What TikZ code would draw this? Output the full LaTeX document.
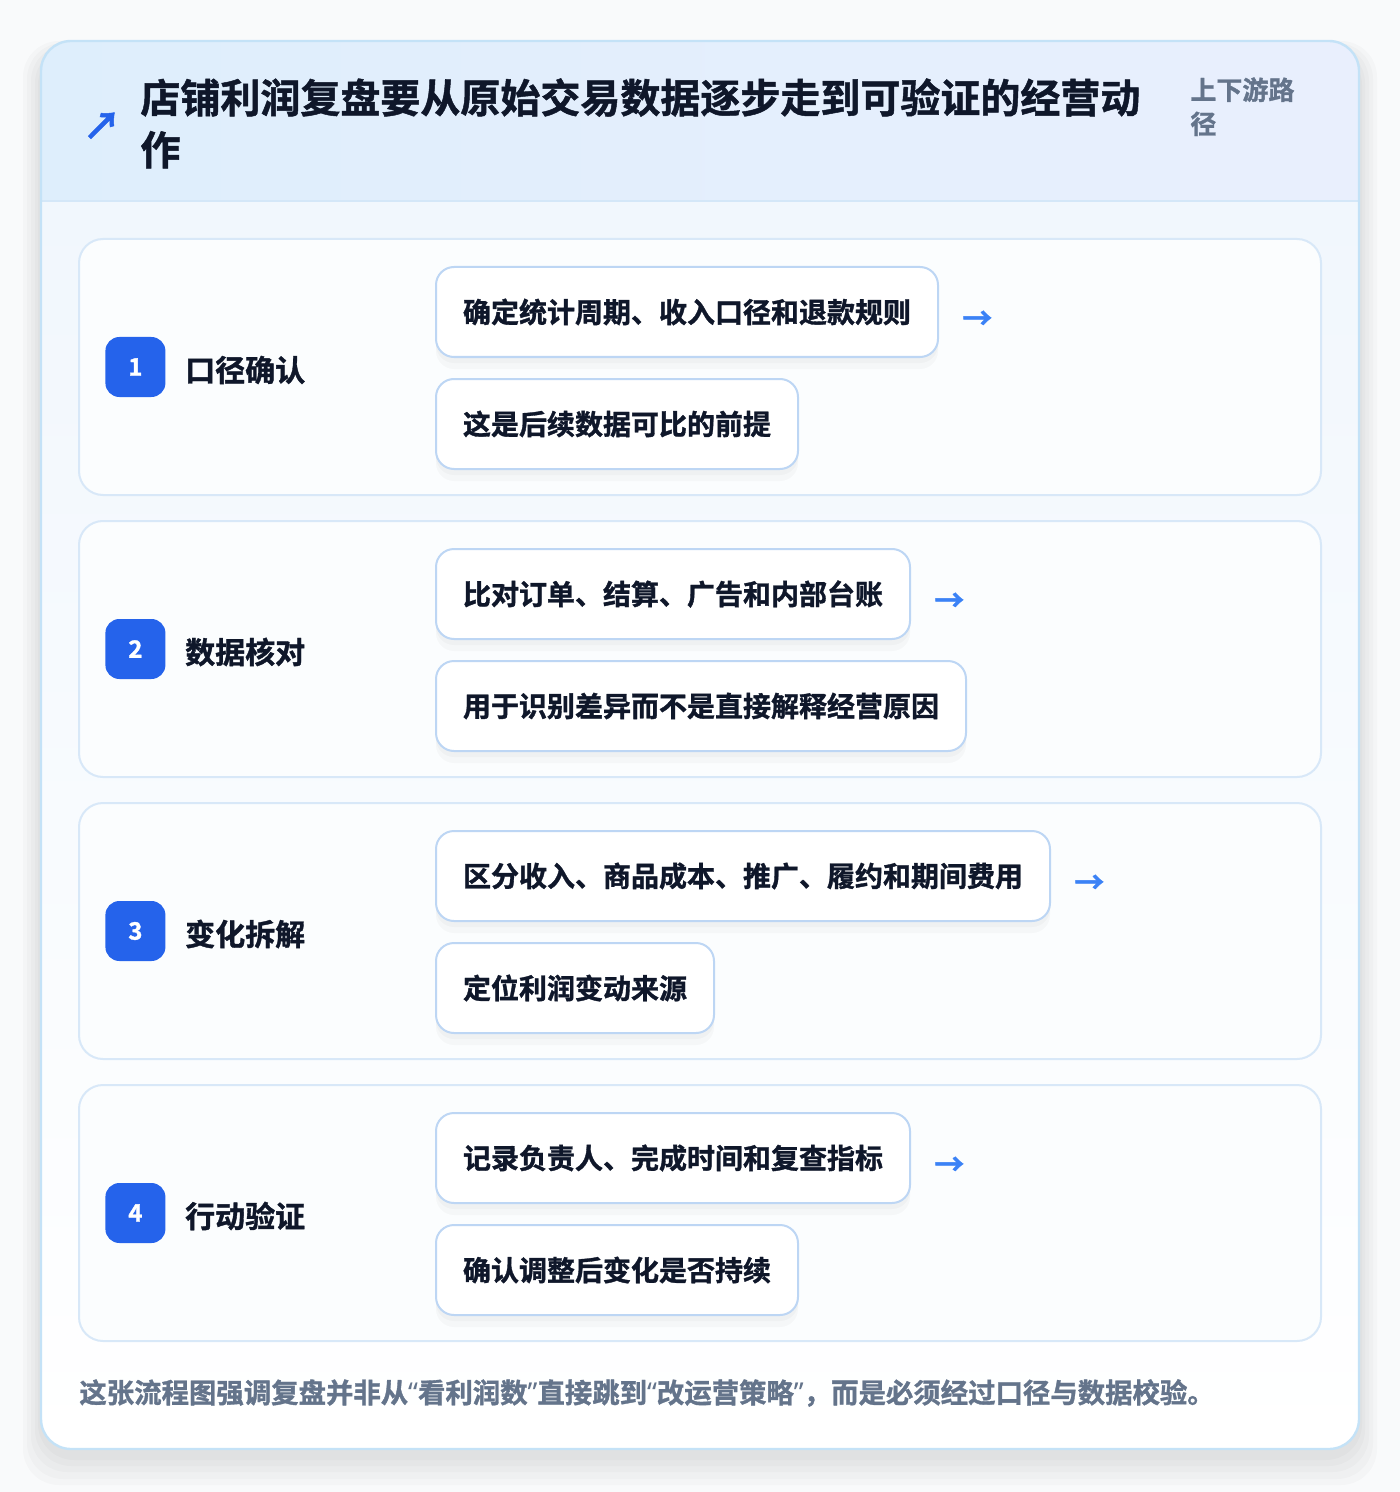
\documentclass[tikz,border=0pt]{standalone}
\usepackage{fontspec}
\setmainfont{Noto Sans CJK SC}[BoldFont={Noto Sans CJK SC Bold}, BoldFeatures={FakeBold=1.2}]
\newfontfamily\quotefont{Noto Sans}[BoldFeatures={FakeBold=1.2}]
\usetikzlibrary{positioning}

\definecolor{pagebg}{HTML}{F9FAFB}
\definecolor{outerline}{HTML}{C4E2F7}
\definecolor{headl}{HTML}{DEEEFC}
\definecolor{headr}{HTML}{E9EFFD}
\definecolor{headline}{HTML}{D4E7F8}
\definecolor{bodytop}{HTML}{F1F7FD}
\definecolor{cardline}{HTML}{D8E8F8}
\definecolor{cardbg}{HTML}{FBFDFE}
\definecolor{pillline}{HTML}{BDD6F4}
\definecolor{ink}{HTML}{0F172A}
\definecolor{slate}{HTML}{64748B}
\definecolor{badgeblue}{HTML}{2563EB}
\definecolor{arrowblue}{HTML}{3B82F6}

\newcommand{\openq}{{\quotefont“}}
\newcommand{\closeq}{{\quotefont”}}

\tikzset{
  stepcard/.style={draw=cardline, fill=cardbg, line width=1pt, rounded corners=12pt,
    minimum width=621pt, minimum height=128pt},
  badge/.style={fill=badgeblue, rounded corners=7pt, minimum size=30pt, inner sep=0pt,
    text=white, font=\bfseries\fontsize{12}{14}\selectfont},
  steplabel/.style={inner sep=0pt, yshift=-1.5pt, text=ink, font=\bfseries\fontsize{15}{18}\selectfont},
  pill/.style={draw=pillline, fill=white, line width=1pt, rounded corners=9pt,
    minimum height=45pt, inner xsep=13.5pt, inner ysep=0pt, text=ink,
    font=\bfseries\fontsize{14}{17}\selectfont,
    preaction={fill=black, fill opacity=0.025, transform canvas={yshift=-6pt}},
    preaction={fill=black, fill opacity=0.025, transform canvas={yshift=-3pt}}},
  steparrow/.style={inner sep=0pt, yshift=-4pt, text=arrowblue, font=\bfseries\fontsize{15}{18}\selectfont},
  cardshade/.style={fill=black, fill opacity=0.018, rounded corners=18pt},
}

\begin{document}
\begin{tikzpicture}[x=0.5pt, y=-0.5pt]

\fill[pagebg] (0,0) rectangle (1400,1492);
\useasboundingbox (0,0) rectangle (1400,1492);

% outer card and its shadow
\fill[cardshade] (23,41) rectangle (1377,1485);
\fill[cardshade] (27,43) rectangle (1373,1479);
\fill[cardshade] (31,45) rectangle (1369,1472);
\fill[cardshade] (35,47) rectangle (1365,1466);
\fill[cardshade] (38,49) rectangle (1362,1460);
\fill[white, rounded corners=15pt] (41,41) rectangle (1359,1449);
\begin{scope}
\clip[rounded corners=15pt] (41,41) rectangle (1359,1449);
\shade[left color=headl, right color=headr] (41,41) rectangle (1359,201);
\shade[top color=bodytop, bottom color=white] (41,201) rectangle (1359,1449);
\end{scope}
\draw[headline, line width=1pt] (41,201) -- (1359,201);
\draw[outerline, line width=1.2pt, rounded corners=15pt] (41,41) rectangle (1359,1449);

% header
\node[text=badgeblue, font=\bfseries\fontsize{19}{20}\selectfont, inner sep=0pt] (icon) at (102,126) {↗};
\node[anchor=north west, align=left, inner sep=0pt, text=ink,
  font=\bfseries\fontsize{20}{26}\selectfont] (title) at (140,78)
  {店铺利润复盘要从原始交易数据逐步走到可验证的经营动\\作};
\node[anchor=north west, align=left, inner sep=0pt, text=slate,
  font=\bfseries\fontsize{13}{17}\selectfont] (tag) at (1190,77) {上下游路\\径};

% step 1
\node[stepcard] (card1) at (700,367) {};
\node[badge, right=13.5pt of card1.west] (badge1) {1};
\node[steplabel, right=9.5pt of badge1] (label1) {口径确认};
\node[pill, anchor=west] (pill1a) at (435,312) {确定统计周期、收入口径和退款规则};
\node[pill, below right=10pt and 0pt of pill1a.south west] (pill1b) {这是后续数据可比的前提};
\node[steparrow, right=11.5pt of pill1a] (arr1) {→};

% step 2
\node[stepcard] (card2) at (700,649) {};
\node[badge, right=13.5pt of card2.west] (badge2) {2};
\node[steplabel, right=9.5pt of badge2] (label2) {数据核对};
\node[pill, anchor=west] (pill2a) at (435,594) {比对订单、结算、广告和内部台账};
\node[pill, below right=10pt and 0pt of pill2a.south west] (pill2b) {用于识别差异而不是直接解释经营原因};
\node[steparrow, right=11.5pt of pill2a] (arr2) {→};

% step 3
\node[stepcard] (card3) at (700,931) {};
\node[badge, right=13.5pt of card3.west] (badge3) {3};
\node[steplabel, right=9.5pt of badge3] (label3) {变化拆解};
\node[pill, anchor=west] (pill3a) at (435,876) {区分收入、商品成本、推广、履约和期间费用};
\node[pill, below right=10pt and 0pt of pill3a.south west] (pill3b) {定位利润变动来源};
\node[steparrow, right=11.5pt of pill3a] (arr3) {→};

% step 4
\node[stepcard] (card4) at (700,1213) {};
\node[badge, right=13.5pt of card4.west] (badge4) {4};
\node[steplabel, right=9.5pt of badge4] (label4) {行动验证};
\node[pill, anchor=west] (pill4a) at (435,1158) {记录负责人、完成时间和复查指标};
\node[pill, below right=10pt and 0pt of pill4a.south west] (pill4b) {确认调整后变化是否持续};
\node[steparrow, right=11.5pt of pill4a] (arr4) {→};

% footer
\node[anchor=west, inner sep=0pt, text=slate, font=\bfseries\fontsize{13.7}{16}\selectfont] (foot) at (79,1393)
  {这张流程图强调复盘并非从\openq 看利润数\closeq 直接跳到\openq 改运营策略\closeq ，而是必须经过口径与数据校验。};

\end{tikzpicture}
\end{document}
